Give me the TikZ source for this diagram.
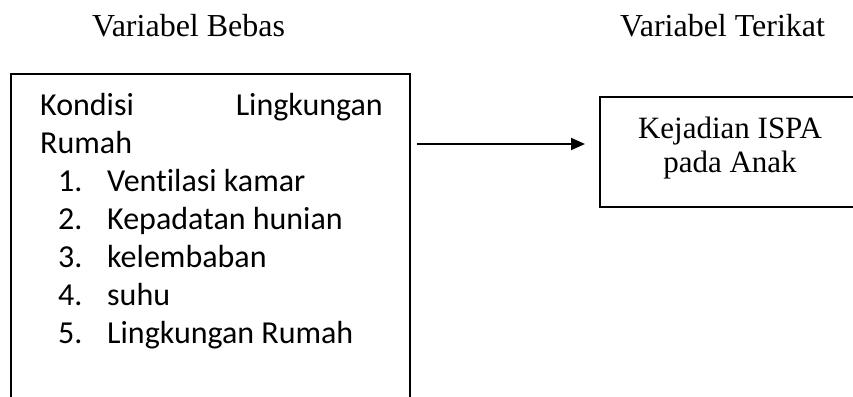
\documentclass[tikz,border=0pt]{standalone}
\usepackage{fontspec}
\setmainfont{Liberation Serif}
\newfontfamily\calibri[Ligatures=NoCommon]{Carlito}
\usetikzlibrary{arrows.meta}
\begin{document}
\begin{tikzpicture}[x=1pt,y=-1pt,
  hdr/.style={font=\fontsize{32}{38}\selectfont, inner sep=0pt, anchor=base west},
  tms/.style={font=\fontsize{31}{37}\selectfont, inner sep=0pt, anchor=base},
  cal/.style={font=\calibri\fontsize{32}{38}\selectfont, inner sep=0pt, anchor=base west},
  box/.style={draw, line width=1.5pt, inner sep=0pt, anchor=north west}]
\clip (0,0) rectangle (853,396);
\fill[white] (0,0) rectangle (853,396);
% headers
\node[hdr] (hbebas) at (92,37) {Variabel Bebas};
\node[hdr] (hterikat) at (620,37) {Variabel Terikat};
% left box (open at the bottom, cut by the page)
\node[box, minimum width=399pt, minimum height=345pt] (kiri) at (10,73) {};
\node[cal] (k1) at (40,115) {Kondisi};
\node[cal, anchor=base east] (k2) at (383,115) {Lingkungan};
\node[cal] (k3) at (40,153) {Rumah};
\foreach \i/\t [count=\n] in {191/Ventilasi kamar,229/Kepadatan hunian,267/kelembaban,305/suhu,343/Lingkungan Rumah}{
  \node[cal] (num\n) at (58,\i) {\n.};
  \node[cal] (it\n) at (107,\i) {\t};
}
% right box
\node[box, minimum width=270pt, minimum height=110pt] (kanan) at (599,96) {};
\node[tms] (r1) at (730,138) {Kejadian ISPA};
\node[tms] (r2) at (730,172) {pada Anak};
% arrow
\coordinate (as) at (417,144);
\coordinate (ae) at (585,144);
\draw[line width=2pt, -{Triangle[length=14pt,width=12pt]}] (as) -- (ae);
\end{tikzpicture}
\end{document}
